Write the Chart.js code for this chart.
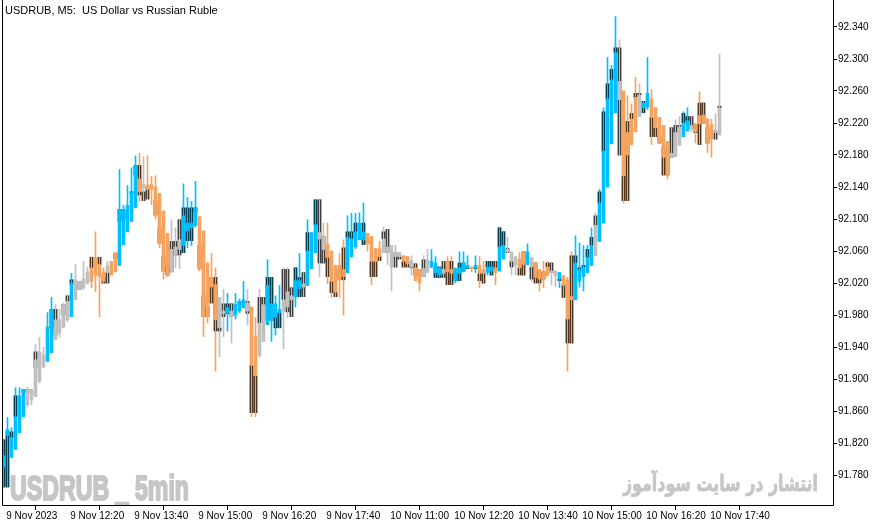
<!DOCTYPE html>
<html><head><meta charset="utf-8">
<script src="https://cdn.jsdelivr.net/npm/chart.js@4.4.0/dist/chart.umd.min.js"></script>
<style>html,body{margin:0;padding:0;background:#fff;overflow:hidden}</style>
</head><body>
<canvas id="c" width="881" height="527"></canvas>
<script>
const title = "USDRUB, M5:  US Dollar vs Russian Ruble";
const tickLabels = ["9 Nov 2023","9 Nov 12:20","9 Nov 13:40","9 Nov 15:00","9 Nov 16:20","9 Nov 17:40","10 Nov 11:00","10 Nov 12:20","10 Nov 13:40","10 Nov 15:00","10 Nov 16:20","10 Nov 17:40"];
const tickBars = [0,16,32,48,64,80,96,112,128,144,160,176];
const priceTicks = [91.78,91.82,91.86,91.90,91.94,91.98,92.02,92.06,92.10,92.14,92.18,92.22,92.26,92.30,92.34];
const colorCodes = ("bbbbbbgggg"+"gbbggggbgg"+"ggoooogoob"+"bbbbogoooo"+"oogggbbbbo"+"ooooggbgbb"+"bgooggbbbb"+"gggbbgbbbg"+"gooooobbbb"+"booooggggg"+"oogooggbbb"+"goobbbbobo"+"obbobbgggo"+"obgooooggb"+"ooobbbbbgb"+"bbbbgoooog"+"bboooooggg"+"bbgooooogg").split("");
const wickHigh = [91.824,91.852,91.839,91.889,91.889,91.887,91.890,91.887,91.943,91.952,
91.940,91.983,92.002,91.993,91.987,91.995,92.005,92.032,92.043,92.022,
92.047,92.040,92.053,92.084,92.052,92.039,92.047,92.047,92.059,92.162,
92.117,92.142,92.164,92.179,92.182,92.178,92.179,92.153,92.154,92.132,
92.110,92.082,92.099,92.089,92.099,92.144,92.127,92.122,92.147,92.103,
92.085,92.045,92.057,92.039,92.002,92.012,92.007,91.994,92.007,92.000,
92.022,92.012,91.990,91.977,92.012,92.002,92.049,92.027,92.004,92.017,
92.039,92.039,92.014,92.039,92.057,92.033,92.099,92.083,92.124,92.124,
92.095,92.095,92.060,92.042,92.057,92.074,92.104,92.107,92.107,92.108,
92.120,92.082,92.078,92.063,92.072,92.090,92.087,92.067,92.067,92.058,
92.054,92.053,92.054,92.044,92.037,92.054,92.062,92.062,92.053,92.040,
92.047,92.053,92.053,92.039,92.059,92.059,92.054,92.040,92.054,92.053,
92.047,92.047,92.047,92.047,92.090,92.084,92.077,92.059,92.053,92.058,
92.059,92.069,92.052,92.045,92.037,92.047,92.047,92.045,92.035,92.033,
92.029,92.027,92.059,92.079,92.070,92.067,92.067,92.089,92.108,92.137,
92.239,92.302,92.292,92.353,92.324,92.260,92.254,92.244,92.277,92.269,
92.247,92.302,92.262,92.239,92.227,92.217,92.197,92.214,92.224,92.228,
92.234,92.239,92.228,92.220,92.259,92.245,92.225,92.225,92.232,92.306];
const wickLow = [91.765,91.765,91.802,91.812,91.833,91.853,91.865,91.868,91.878,91.895,
91.914,91.922,91.933,91.949,91.952,91.964,91.972,91.978,91.999,92.012,
92.012,92.018,92.014,92.009,91.978,92.020,92.020,92.030,92.034,92.042,
92.068,92.084,92.097,92.114,92.122,92.123,92.124,92.118,92.100,92.064,
92.025,92.028,92.033,92.039,92.038,92.058,92.064,92.067,92.090,92.035,
91.953,91.970,91.995,91.910,91.928,91.953,91.960,91.945,91.975,91.983,
91.989,91.968,91.853,91.853,91.927,91.947,91.968,91.947,91.955,91.964,
91.938,91.977,91.978,91.990,92.003,92.003,92.017,92.038,92.058,92.028,
92.045,92.019,92.002,92.003,92.002,91.980,92.033,92.052,92.063,92.074,
92.068,92.060,92.018,92.028,92.048,92.058,92.043,92.010,92.040,92.050,
92.040,92.040,92.030,92.023,92.010,92.028,92.033,92.039,92.027,92.027,
92.027,92.018,92.018,92.020,92.023,92.034,92.038,92.034,92.033,92.014,
92.020,92.030,92.030,92.018,92.035,92.050,92.058,92.030,92.030,92.030,
92.030,92.043,92.022,92.020,92.010,92.014,92.029,92.018,92.015,92.014,
92.002,91.910,91.944,91.999,92.015,92.010,92.033,92.042,92.054,92.072,
92.095,92.140,92.194,92.233,92.180,92.120,92.123,92.193,92.209,92.228,
92.233,92.237,92.193,92.203,92.195,92.154,92.150,92.177,92.178,92.192,
92.203,92.210,92.209,92.195,92.193,92.220,92.183,92.177,92.200,92.205];
const haTop = [91.804,91.837,91.827,91.853,91.879,91.887,91.887,91.887,91.924,91.934,
91.930,91.965,91.987,91.974,91.974,91.993,91.997,92.020,92.024,92.022,
92.025,92.034,92.039,92.052,92.043,92.034,92.042,92.047,92.058,92.112,
92.112,92.117,92.134,92.167,92.150,92.143,92.143,92.143,92.140,92.132,
92.110,92.082,92.062,92.065,92.074,92.104,92.095,92.095,92.114,92.103,
92.085,92.045,92.027,92.018,92.002,91.985,91.989,91.985,91.993,91.997,
91.999,91.995,91.990,91.954,91.970,91.993,92.017,91.994,91.994,91.987,
91.999,92.009,92.004,92.023,92.023,92.019,92.060,92.083,92.093,92.083,
92.078,92.069,92.060,92.042,92.042,92.037,92.077,92.075,92.084,92.095,
92.084,92.082,92.078,92.063,92.063,92.075,92.065,92.067,92.058,92.058,
92.054,92.053,92.048,92.039,92.037,92.038,92.049,92.047,92.045,92.039,
92.037,92.047,92.037,92.038,92.039,92.045,92.042,92.040,92.042,92.042,
92.037,92.040,92.040,92.039,92.065,92.067,92.062,92.059,92.053,92.050,
92.059,92.059,92.052,92.045,92.037,92.034,92.040,92.035,92.035,92.033,
92.029,92.024,92.003,92.045,92.037,92.040,92.052,92.067,92.092,92.120,
92.185,92.250,92.274,92.308,92.272,92.260,92.208,92.225,92.252,92.255,
92.245,92.257,92.250,92.239,92.227,92.217,92.197,92.182,92.208,92.215,
92.220,92.223,92.217,92.218,92.229,92.230,92.225,92.218,92.210,92.239];
const haBottom = [91.790,91.829,91.802,91.812,91.833,91.853,91.868,91.874,91.878,91.897,
91.915,91.922,91.933,91.949,91.958,91.965,91.974,91.978,91.999,92.012,
92.014,92.020,92.022,92.030,92.028,92.022,92.033,92.030,92.034,92.042,
92.068,92.084,92.097,92.114,92.134,92.139,92.137,92.137,92.105,92.070,
92.035,92.030,92.034,92.055,92.062,92.067,92.085,92.089,92.092,92.037,
91.978,91.978,92.015,91.974,91.964,91.982,91.983,91.978,91.980,91.985,
91.989,91.985,91.917,91.904,91.929,91.947,91.968,91.973,91.977,91.983,
91.984,91.990,91.999,92.003,92.013,92.015,92.017,92.038,92.058,92.075,
92.062,92.052,92.022,92.009,92.024,92.028,92.033,92.053,92.065,92.074,
92.074,92.069,92.047,92.047,92.053,92.058,92.058,92.040,92.053,92.053,
92.047,92.044,92.040,92.023,92.020,92.028,92.033,92.040,92.033,92.030,
92.032,92.034,92.032,92.023,92.032,92.034,92.039,92.038,92.039,92.032,
92.032,92.033,92.035,92.033,92.035,92.050,92.059,92.047,92.042,92.039,
92.043,92.043,92.040,92.027,92.025,92.025,92.029,92.033,92.029,92.025,
92.017,91.975,91.999,91.999,92.022,92.028,92.033,92.042,92.054,92.072,
92.095,92.140,92.194,92.233,92.249,92.154,92.180,92.193,92.209,92.228,
92.239,92.240,92.227,92.214,92.195,92.177,92.155,92.177,92.178,92.192,
92.203,92.210,92.213,92.209,92.219,92.220,92.195,92.200,92.208,92.205];
const bodyTop = [91.824,91.834,91.834,91.879,null,91.887,91.887,null,91.934,null,
null,null,91.987,91.987,null,91.993,92.004,92.024,null,92.022,
null,null,92.052,null,92.052,92.028,92.033,null,92.057,92.112,
92.112,null,92.134,92.167,92.167,92.134,92.140,null,92.123,92.088,
92.053,92.040,92.072,92.072,92.099,92.114,92.114,92.114,92.114,92.067,
92.004,91.990,92.027,92.027,91.964,91.994,91.994,91.994,null,91.997,
null,91.997,91.917,91.904,92.002,92.002,92.027,92.027,91.983,91.983,
92.037,92.037,92.014,92.039,92.027,92.033,92.083,null,92.124,92.124,
92.078,92.052,92.022,92.008,92.037,92.064,92.084,92.084,92.095,null,
92.095,92.072,92.047,92.047,92.053,92.084,92.087,null,92.058,92.053,
92.047,92.047,92.040,92.044,null,92.049,null,null,92.040,92.040,
92.047,92.047,92.047,92.033,92.045,92.045,92.039,null,92.039,92.032,
92.032,92.047,92.047,92.047,92.089,92.084,92.063,92.047,null,92.039,
92.059,null,92.040,92.045,92.034,92.034,92.045,92.045,null,92.025,
92.018,91.975,92.054,92.054,92.039,92.042,92.062,92.077,92.104,92.134,
92.234,92.269,92.287,92.314,92.314,92.154,92.222,92.232,92.257,92.257,
92.247,null,92.227,92.214,92.203,92.190,92.177,92.214,92.217,92.217,
92.232,92.228,92.228,92.218,92.245,92.245,92.214,null,92.210,92.241];
const bodyBottom = [91.765,91.765,91.827,91.853,null,91.883,91.883,null,91.914,null,
null,null,91.964,91.955,null,91.980,91.997,92.018,null,92.012,
null,null,92.039,null,92.043,92.020,92.020,null,92.050,92.097,
92.100,null,92.132,92.155,92.130,92.123,92.125,null,92.105,92.070,
92.035,92.030,92.034,92.055,92.055,92.058,92.073,92.073,92.109,92.038,
91.978,91.978,91.995,91.960,91.960,91.978,91.982,91.978,null,91.993,
null,91.982,91.858,91.858,91.970,91.993,91.974,91.973,91.964,91.964,
91.999,91.984,91.978,92.003,92.003,92.003,92.060,null,92.093,92.045,
92.045,92.028,92.008,92.003,92.024,92.024,92.077,92.075,92.084,null,
92.068,92.069,92.028,92.028,92.048,92.075,92.058,null,92.040,92.050,
92.040,92.040,92.039,92.029,null,92.028,null,null,92.027,92.027,
92.027,92.018,92.018,92.023,92.023,92.035,92.038,null,92.038,92.023,
92.020,92.040,92.030,92.037,92.065,92.067,92.058,92.040,null,92.030,
92.030,null,92.025,92.020,92.020,92.025,92.040,92.033,null,92.023,
92.002,91.945,91.945,92.045,92.035,92.039,92.052,92.067,92.092,92.120,
92.185,92.250,92.274,92.308,92.180,92.123,92.123,92.225,92.252,92.255,
92.233,null,92.203,92.203,92.195,92.155,92.155,92.177,92.208,92.215,
92.220,92.222,92.213,92.208,92.193,92.220,92.195,null,92.200,92.239];

const palette = {b:"#00BFFF", o:"#F4A460", g:"#C0C0C0"};
const barColors = colorCodes.map(c => palette[c]);
const wickData = wickHigh.map((h,i) => ({x:i, y:[wickLow[i], h]}));
const haData = haTop.map((t,i) => ({x:i, y:[haBottom[i], t]}));
const bodyData = [];
bodyTop.forEach((t,i) => { if (t !== null) bodyData.push({x:i, y:[bodyBottom[i], t]}); });

const FONT = '"Liberation Sans", Arial, sans-serif';

function fitText(ctx, text, x, y, width, stroke, align) {
  const w = ctx.measureText(text).width;
  ctx.save();
  ctx.translate(x, y);
  ctx.scale(width / w, 1);
  ctx.textAlign = align;
  ctx.fillText(text, 0, 0);
  if (stroke) { ctx.lineWidth = stroke; ctx.lineJoin = 'round'; ctx.strokeText(text, 0, 0); }
  ctx.restore();
}

const decor = {
  id: 'decor',
  beforeDatasetsDraw(chart) {
    const ctx = chart.ctx;
    ctx.save();
    ctx.fillStyle = '#C6C6C6';
    ctx.strokeStyle = '#C6C6C6';
    ctx.textBaseline = 'alphabetic';
    ctx.font = 'bold 35px "Liberation Sans Narrow", "Liberation Sans", sans-serif';
    fitText(ctx, 'USDRUB _ 5min', 10, 500, 179, 2.2, 'left');
    ctx.direction = 'rtl';
    ctx.font = 'bold 22px "DejaVu Sans", sans-serif';
    fitText(ctx, 'انتشار در سایت سودآموز', 818, 491, 195, 0.8, 'right');
    ctx.restore();
  },
  afterDraw(chart) {
    const ctx = chart.ctx;
    ctx.save();
    ctx.strokeStyle = '#000';
    ctx.lineWidth = 1;
    ctx.beginPath();
    ctx.moveTo(2.5, 0); ctx.lineTo(2.5, 505.5);
    ctx.lineTo(833.5, 505.5); ctx.lineTo(833.5, 0);
    ctx.stroke();
    ctx.fillStyle = '#000';
    ctx.font = '11px ' + FONT;
    ctx.textBaseline = 'alphabetic';
    ctx.direction = 'ltr';
    ctx.textAlign = 'left';
    ctx.fillText(title, 5, 14);
    ctx.restore();
  }
};

new Chart(document.getElementById('c'), {
  type: 'bar',
  data: {
    datasets: [
      {label:'ha', data: haData, backgroundColor: barColors, barThickness: 3, order: 0},
      {label:'wick', data: wickData, backgroundColor: barColors, barThickness: 1, order: 1},
      {label:'body', data: bodyData, backgroundColor: '#000000', barThickness: 3, order: 2}
    ]
  },
  options: {
    responsive: false,
    devicePixelRatio: 1,
    animation: false,
    layout: {padding: {left: 3, top: 1, right: 0, bottom: 0}},
    datasets: {bar: {grouped: false, borderWidth: 0, borderSkipped: false, minBarLength: 1}},
    plugins: {legend: {display: false}, tooltip: {enabled: false}},
    scales: {
      x: {
        type: 'linear',
        min: -0.125, max: 207.375,
        offset: false,
        afterBuildTicks: s => { s.ticks = tickBars.map(v => ({value: v})); },
        afterFit: s => { s.height = 22; s.paddingLeft = 0; s.paddingRight = 0; },
        grid: {display: true, drawOnChartArea: false, drawTicks: true, tickLength: 5, color: '#000'},
        border: {display: false},
        ticks: {
          autoSkip: false, maxRotation: 0, minRotation: 0, align: 'start', padding: 0,
          color: '#000', font: {family: FONT, size: 10},
          callback: (v, i) => ' ' + (tickLabels[i] || '')
        }
      },
      y: {
        position: 'right',
        min: 91.7425, max: 92.3725,
        afterBuildTicks: s => { s.ticks = priceTicks.map(v => ({value: v})); },
        afterFit: s => { s.width = 48; s.paddingTop = 0; s.paddingBottom = 0; },
        grid: {display: true, drawOnChartArea: false, drawTicks: true, tickLength: 4, color: '#000'},
        border: {display: false},
        ticks: {
          padding: 1, color: '#000', font: {family: FONT, size: 10},
          callback: v => Number(v).toFixed(3)
        }
      }
    }
  },
  plugins: [decor]
});
</script>
</body></html>
